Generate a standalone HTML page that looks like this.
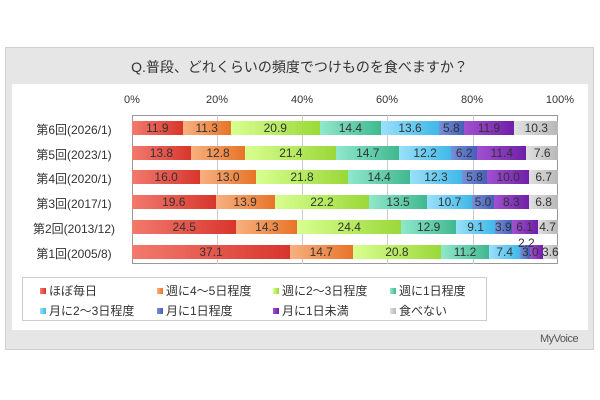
<!DOCTYPE html>
<html><head><meta charset="utf-8"><style>
body{margin:0;width:600px;height:400px;background:#fff;font-family:"Liberation Sans","Noto Sans CJK JP",sans-serif;position:relative;overflow:hidden}
.abs{position:absolute}
.frame{left:5px;top:47px;width:589px;height:303px;background:#e6e6e6;border:1px solid #d0d0d0;box-sizing:border-box}
.panel{left:12px;top:84px;width:576px;height:246px;background:#fff}
.title{left:5px;top:57px;width:589px;text-align:center;font-size:14px;color:#333}
.tick{top:94px;font-size:11px;color:#333;width:40px;text-align:center}
.plot{left:132px;top:115px;width:426px;height:149px;border:1px solid #999;box-sizing:border-box;background:#fff}
.grid{top:115px;height:149px;width:1px;background:#ccc}
.row{position:absolute;left:132px;height:14px;display:flex}
.seg{height:14px;font-size:12px;color:#333;text-align:center;line-height:14px;white-space:nowrap;overflow:visible}
.lab{position:absolute;font-size:12px;color:#333;left:20px;width:108px;text-align:center}
.leg{left:22px;top:277px;width:465px;height:44px;border:1px solid #ccc;box-sizing:border-box;background:#fff}
.li{position:absolute;font-size:12px;color:#333}
.li i{display:inline-block;width:6px;height:6px;margin-right:3px;vertical-align:1px}
.c1{background:linear-gradient(90deg,#f27a6e,#d8362c)}
.c2{background:linear-gradient(90deg,#f8b080,#e87428)}
.c3{background:linear-gradient(90deg,#d8ff90,#9ad838)}
.c4{background:linear-gradient(90deg,#90e8cc,#40b890)}
.c5{background:linear-gradient(90deg,#9ae0fa,#40b8e8)}
.c6{background:linear-gradient(90deg,#7890d8,#4460b8)}
.c7{background:linear-gradient(90deg,#a050d0,#7020a8)}
.c8{background:linear-gradient(90deg,#e0e0e0,#b8b8b8)}
</style></head><body>
<div class="abs frame"></div>
<div class="abs panel"></div>
<div class="abs title">Q.普段、どれくらいの頻度でつけものを食べますか？</div>
<div class="abs tick" style="left:112px">0%</div>
<div class="abs tick" style="left:197px">20%</div>
<div class="abs tick" style="left:282px">40%</div>
<div class="abs tick" style="left:367px">60%</div>
<div class="abs tick" style="left:452px">80%</div>
<div class="abs tick" style="left:540px">100%</div>
<div class="abs plot"></div>
<div class="abs grid" style="left:217px"></div>
<div class="abs grid" style="left:302px"></div>
<div class="abs grid" style="left:387px"></div>
<div class="abs grid" style="left:473px"></div>

<div class="lab" style="top:121px">第6回(2026/1)</div>
<div class="row" style="top:121px">
<div class="seg c1" style="width:50.7px">11.9</div><div class="seg c2" style="width:48.1px">11.3</div><div class="seg c3" style="width:89px">20.9</div><div class="seg c4" style="width:61.3px">14.4</div><div class="seg c5" style="width:57.9px">13.6</div><div class="seg c6" style="width:24.7px">5.8</div><div class="seg c7" style="width:50.7px">11.9</div><div class="seg c8" style="width:43.9px">10.3</div></div>

<div class="lab" style="top:146px">第5回(2023/1)</div>
<div class="row" style="top:146px">
<div class="seg c1" style="width:58.8px">13.8</div><div class="seg c2" style="width:54.5px">12.8</div><div class="seg c3" style="width:91.2px">21.4</div><div class="seg c4" style="width:62.6px">14.7</div><div class="seg c5" style="width:52px">12.2</div><div class="seg c6" style="width:26.4px">6.2</div><div class="seg c7" style="width:48.6px">11.4</div><div class="seg c8" style="width:32.4px">7.6</div></div>

<div class="lab" style="top:170px">第4回(2020/1)</div>
<div class="row" style="top:170px">
<div class="seg c1" style="width:68.2px">16.0</div><div class="seg c2" style="width:55.4px">13.0</div><div class="seg c3" style="width:92.9px">21.8</div><div class="seg c4" style="width:61.3px">14.4</div><div class="seg c5" style="width:52.4px">12.3</div><div class="seg c6" style="width:24.7px">5.8</div><div class="seg c7" style="width:42.6px">10.0</div><div class="seg c8" style="width:28.5px">6.7</div></div>

<div class="lab" style="top:195px">第3回(2017/1)</div>
<div class="row" style="top:195px">
<div class="seg c1" style="width:83.5px">19.6</div><div class="seg c2" style="width:59.2px">13.9</div><div class="seg c3" style="width:94.6px">22.2</div><div class="seg c4" style="width:57.5px">13.5</div><div class="seg c5" style="width:45.6px">10.7</div><div class="seg c6" style="width:21.3px">5.0</div><div class="seg c7" style="width:35.4px">8.3</div><div class="seg c8" style="width:29px">6.8</div></div>

<div class="lab" style="top:220px">第2回(2013/12)</div>
<div class="row" style="top:220px">
<div class="seg c1" style="width:104.4px">24.5</div><div class="seg c2" style="width:60.9px">14.3</div><div class="seg c3" style="width:103.9px">24.4</div><div class="seg c4" style="width:55px">12.9</div><div class="seg c5" style="width:38.8px">9.1</div><div class="seg c6" style="width:16.6px">3.9</div><div class="seg c7" style="width:26px">6.1</div><div class="seg c8" style="width:20px">4.7</div></div>

<div class="lab" style="top:245px">第1回(2005/8)</div>
<div class="row" style="top:245px">
<div class="seg c1" style="width:158px">37.1</div><div class="seg c2" style="width:62.6px">14.7</div><div class="seg c3" style="width:88.6px">20.8</div><div class="seg c4" style="width:47.7px">11.2</div><div class="seg c5" style="width:31.5px">7.4</div><div class="seg c6" style="width:9.4px"></div><div class="seg c7" style="width:12.8px"></div><div class="seg c8" style="width:15.3px"></div></div>
<div class="abs" style="left:518px;top:236px;font-size:12px;color:#333">2.2</div>
<div class="abs" style="left:522px;top:245px;font-size:12px;color:#333">3.0</div>
<div class="abs" style="left:542px;top:245px;font-size:12px;color:#333">3.6</div>

<div class="abs leg"></div>
<div class="li" style="left:40px;top:282px"><i class="c1"></i>ほぼ毎日</div>
<div class="li" style="left:157px;top:282px"><i class="c2"></i>週に4～5日程度</div>
<div class="li" style="left:273px;top:282px"><i class="c3"></i>週に2～3日程度</div>
<div class="li" style="left:390px;top:282px"><i class="c4"></i>週に1日程度</div>
<div class="li" style="left:40px;top:302px"><i class="c5"></i>月に2～3日程度</div>
<div class="li" style="left:157px;top:302px"><i class="c6"></i>月に1日程度</div>
<div class="li" style="left:273px;top:302px"><i class="c7"></i>月に1日未満</div>
<div class="li" style="left:390px;top:302px"><i class="c8"></i>食べない</div>
<div class="abs" style="left:540px;top:333px;font-size:11px;color:#555;letter-spacing:-0.5px">MyVoice</div>
</body></html>
